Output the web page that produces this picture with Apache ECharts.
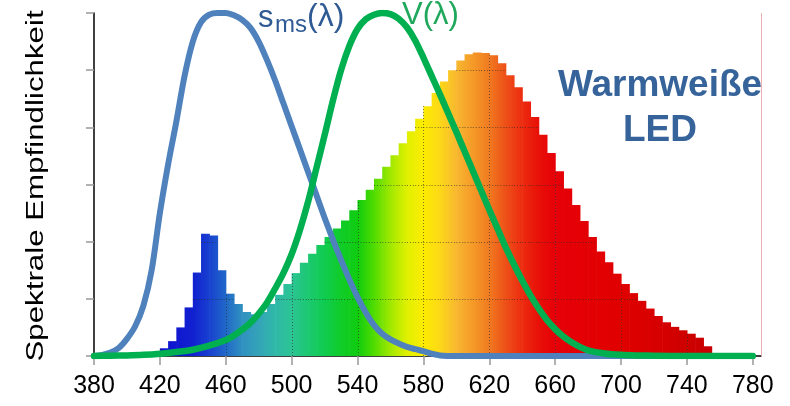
<!DOCTYPE html>
<html><head><meta charset="utf-8">
<script src="https://cdn.jsdelivr.net/npm/echarts@6/dist/echarts.min.js"></script>
<style>html,body{margin:0;padding:0;background:#fff}#c{width:790px;height:406px}</style>
</head><body><div id="c"></div>
<script>
const FONT = '"Liberation Sans", Arial, sans-serif';
const xTicks = [380, 420, 460, 500, 540, 580, 620, 660, 700, 740, 780];
const yTicks = [0, 1, 2, 3, 4, 5, 6];
const binWidth = 5;
const barStarts = [420,425,430,435,440,445,450,455,460,465,470,475,480,485,490,495,500,505,510,515,520,525,530,535,540,545,550,555,560,565,570,575,580,585,590,595,600,605,610,615,620,625,630,635,640,645,650,655,660,665,670,675,680,685,690,695,700,705,710,715,720,725,730,735,740,745,750];
const barValues = [0.135,0.26,0.50,0.85,1.46,2.14,2.11,1.50,1.09,0.91,0.77,0.73,0.77,0.91,1.07,1.26,1.45,1.63,1.79,1.94,2.08,2.23,2.37,2.55,2.73,2.91,3.10,3.31,3.51,3.72,3.93,4.15,4.37,4.60,4.80,5.00,5.17,5.28,5.31,5.30,5.26,5.12,4.91,4.70,4.45,4.18,3.87,3.55,3.23,2.93,2.64,2.36,2.08,1.83,1.64,1.44,1.26,1.10,0.965,0.83,0.70,0.59,0.51,0.45,0.39,0.32,0.17];
const smsWavelengths = [380,385,390,395,400,405,410,415,420,425,430,435,440,445,450,455,460,465,470,475,480,485,490,495,500,505,510,515,520,525,530,535,540,545,550,555,560,565,570,575,580,585,590,600,650,700,780];
const smsValues = [0,0.02,0.06,0.14,0.3,0.52,0.88,1.5,2.5,3.35,4.1,4.9,5.5,5.84,5.97,6.0,6.0,5.96,5.88,5.74,5.5,5.18,4.82,4.42,4.02,3.62,3.22,2.82,2.42,2.04,1.68,1.34,1.03,0.76,0.54,0.39,0.29,0.22,0.16,0.12,0.085,0.04,0.01,0,0,0,0];
const vWavelengths = [380,390,400,410,420,430,440,450,460,465,470,475,480,485,490,495,500,505,510,515,520,525,530,535,540,545,550,555,560,565,570,575,580,585,590,595,600,605,610,615,620,625,630,635,640,645,650,655,660,665,670,675,680,690,700,710,720,740,780];
const vValues = [0,0.005,0.01,0.02,0.04,0.07,0.11,0.18,0.28,0.36,0.46,0.58,0.74,0.93,1.18,1.45,1.78,2.2,2.7,3.28,3.86,4.46,5.0,5.42,5.72,5.89,5.97,6.0,5.98,5.9,5.75,5.52,5.22,4.9,4.58,4.25,3.92,3.58,3.24,2.9,2.56,2.23,1.9,1.6,1.32,1.06,0.83,0.63,0.47,0.34,0.24,0.16,0.1,0.045,0.02,0.01,0.005,0,0];
const spectrumStops = [[420,'#1010d0'],[440,'#1020d0'],[450,'#1840d0'],[460,'#2068c8'],[470,'#3090c0'],[480,'#34a4b8'],[490,'#30b8a8'],[500,'#2cc494'],[510,'#1cc870'],[520,'#10cc50'],[530,'#10cc28'],[540,'#10cc10'],[550,'#50dc00'],[560,'#a0e800'],[570,'#e0f000'],[580,'#fcec00'],[590,'#fdd818'],[600,'#f8b830'],[610,'#f59a28'],[620,'#f07a20'],[630,'#ee5018'],[640,'#ec2c10'],[650,'#e81008'],[660,'#e60008'],[700,'#e00000'],[755,'#c80000']];

const chart = echarts.init(document.getElementById('c'));
const dotStyle = {stroke:'rgba(40,40,40,0.6)', lineWidth:1, lineDash:[1,2]};
function renderBar(params, api) {
  const s = api.value(0), v = api.value(1);
  const b = api.coord([s, 0]), t = api.coord([s + binWidth, v]);
  const gx0 = api.coord([380, 0])[0], gx1 = api.coord([780, 0])[0];
  const stops = spectrumStops.map(d => ({offset:(d[0]-380)/400, color:d[1]}));
  const grad = new echarts.graphic.LinearGradient(gx0, 0, gx1, 0, stops, true);
  const children = [{type:'rect', shape:{x:b[0], y:t[1], width:t[0]-b[0]+0.6, height:b[1]-t[1]}, style:{fill:grad}}];
  yTicks.forEach(l => {
    if (l > 0 && l < v) {
      const yy = Math.round(api.coord([s, l])[1]) + 0.5;
      children.push({type:'line', shape:{x1:b[0], y1:yy, x2:t[0], y2:yy}, style:dotStyle});
    }
  });
  if (xTicks.indexOf(s) > 0) {
    const xx = Math.round(b[0]) + 0.5;
    children.push({type:'line', shape:{x1:xx, y1:b[1], x2:xx, y2:t[1]}, style:dotStyle});
  }
  return {type:'group', children};
}
const txt = (x, y, text, size, color, extra) => Object.assign({type:'text', x, y, silent:true,
  style:Object.assign({text, fontSize:size, fontFamily:FONT, fill:color, align:'left', textAlign:'left', verticalAlign:'middle', textVerticalAlign:'middle'}, extra || {})});

chart.setOption({
  animation:false,
  grid:{left:94, right:29, top:13, bottom:50},
  xAxis:{type:'value', min:380, max:785,
    axisLine:{lineStyle:{color:'#000', width:1.5}},
    axisTick:{customValues:xTicks, length:9, lineStyle:{color:'#999', width:1.5}},
    axisLabel:{customValues:xTicks, fontSize:25, color:'#000', margin:18, fontFamily:FONT},
    splitLine:{show:false}},
  yAxis:{type:'value', min:0, max:6, interval:1,
    axisLine:{show:true, lineStyle:{color:'#000', width:1.5}},
    axisTick:{show:true, length:8, lineStyle:{color:'#999', width:1.5}},
    axisLabel:{show:false}, splitLine:{show:false}},
  series:[
    {type:'custom', z:1, renderItem:renderBar, encode:{x:0, y:1},
     data:barStarts.map((s,i)=>[s, barValues[i]]),
     markLine:{silent:true, symbol:['none','none'], label:{show:false},
       lineStyle:{color:'#eeb0b4', type:'solid', width:1}, data:[{xAxis:785}]}},
    {type:'line', z:3, showSymbol:false, smooth:0.3,
     lineStyle:{color:'#4f81bd', width:6, cap:'round', join:'round'},
     data:smsWavelengths.map((w,i)=>[w, smsValues[i]])},
    {type:'line', z:4, showSymbol:false, smooth:0.3,
     lineStyle:{color:'#00b050', width:6.5, cap:'round', join:'round'},
     data:vWavelengths.map((w,i)=>[w, vValues[i]])}
  ],
  graphic:[
    {type:'text', x:37, y:186, rotation:Math.PI/2, scaleX:1.36, silent:true,
     style:{text:'Spektrale Empfindlichkeit', fontSize:23, fontFamily:FONT, fill:'#000',
       align:'center', textAlign:'center', verticalAlign:'middle', textVerticalAlign:'middle'}},
    txt(258, 18.4, 's', 31, '#2f5a94'),
    txt(275, 25.6, 'ms', 24, '#2f5a94'),
    txt(307, 17, '(λ)', 32, '#2f5a94'),
    txt(402, 15.4, 'V(λ)', 31, '#1fa85c'),
    {type:'text', x:660, y:63, silent:true,
     style:{text:'Warmweiße\nLED', fontSize:37, fontWeight:'bold', fontFamily:FONT, fill:'#35639a',
       lineHeight:45, align:'center', textAlign:'center', verticalAlign:'top', textVerticalAlign:'top'}}
  ]
});
</script></body></html>
